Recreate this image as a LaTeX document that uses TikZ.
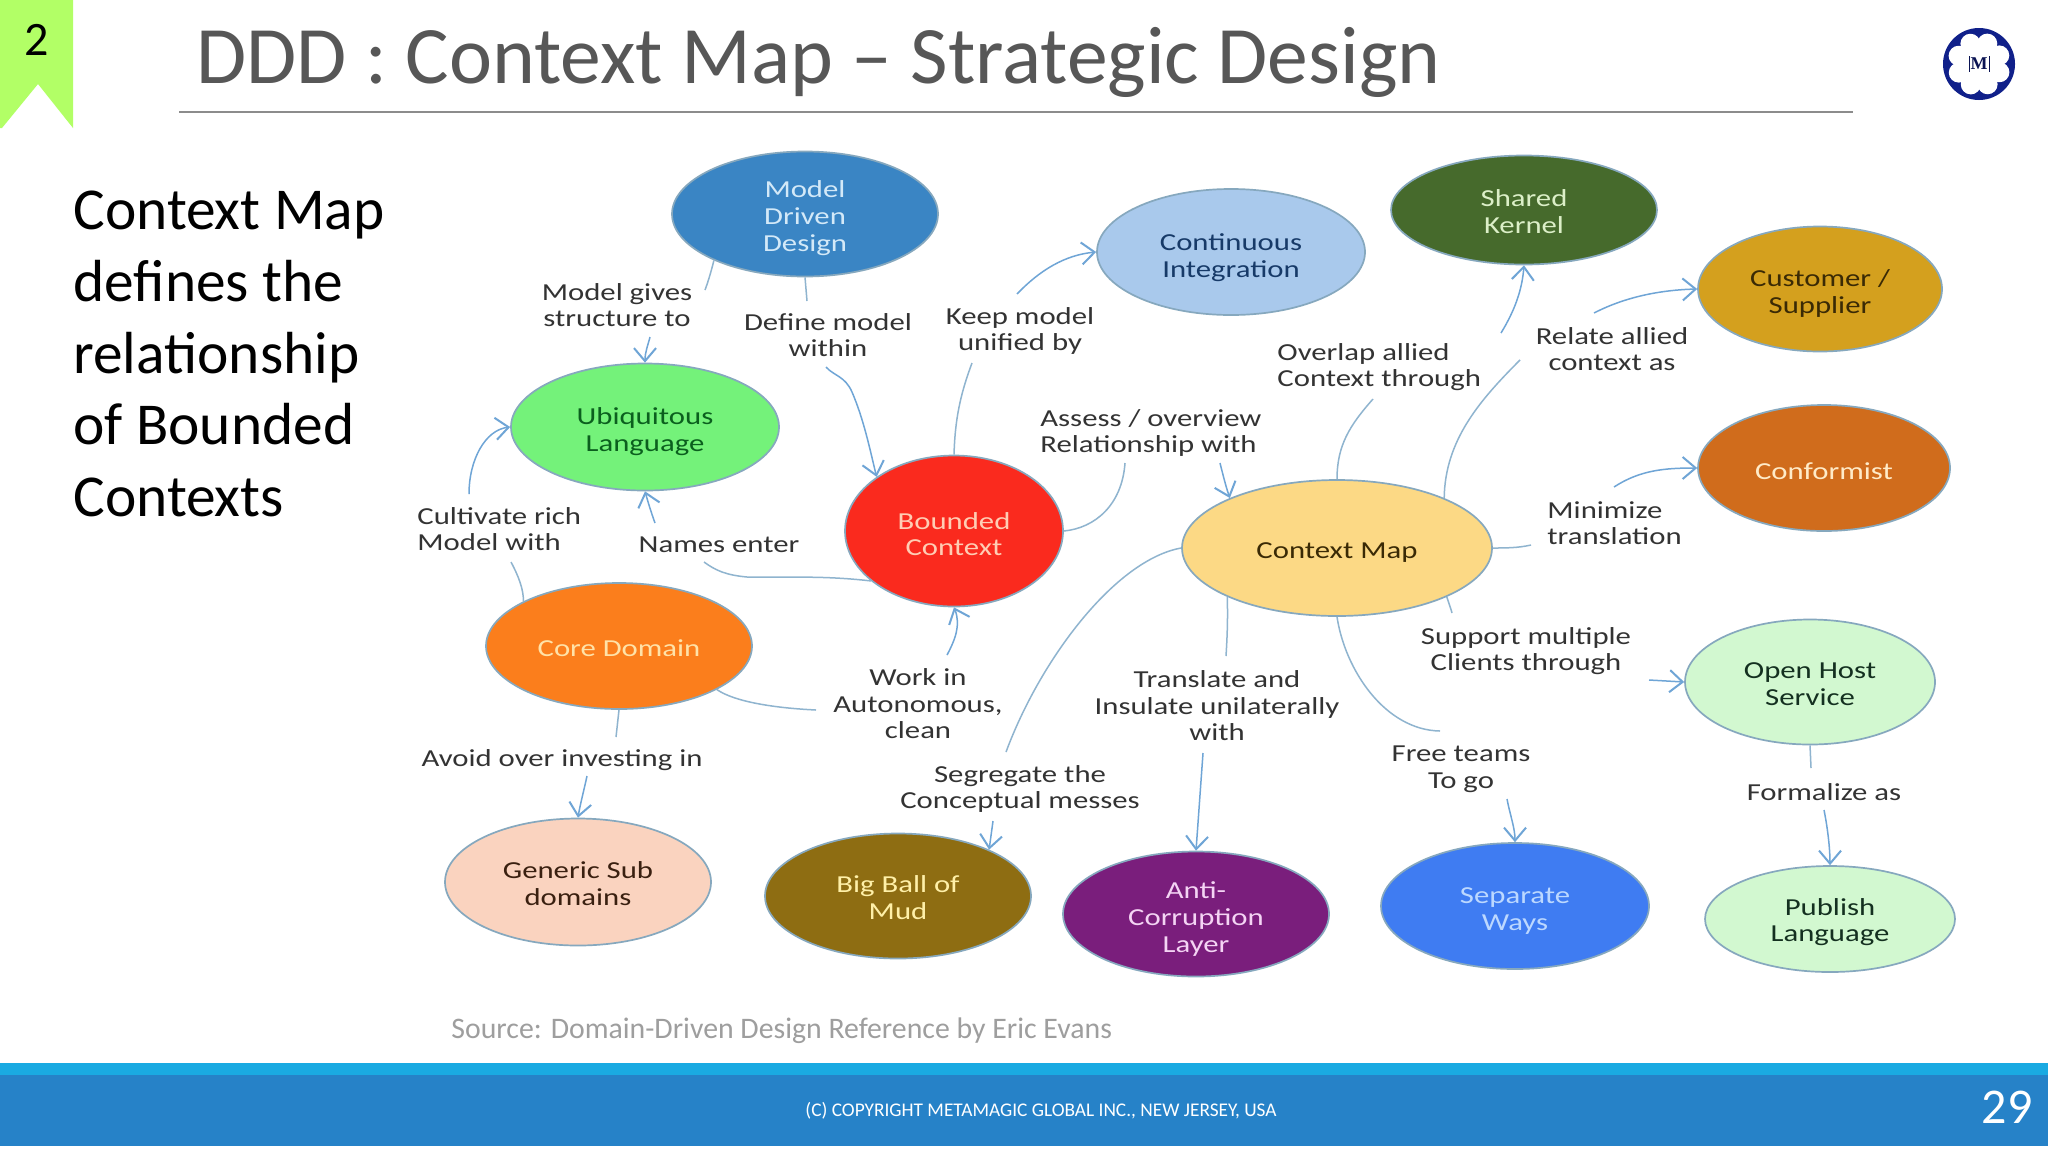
\documentclass[tikz,border=0pt]{standalone}
\usepackage{fontspec}
\setmainfont{Carlito}
\newfontfamily\diag[FakeStretch=1.26]{Carlito}
\newfontfamily\logofont{Liberation Serif}
\usetikzlibrary{shapes.geometric,arrows.meta}
\newcommand{\dropby}[1]{\rule{0pt}{#1pt}}
\tikzset{
  oval/.style n args={4}{shape=ellipse, minimum width=#1pt, minimum height=#2pt, inner sep=0pt, fill=#3, text=#4,
    draw=edgegrey, line width=0.85pt, align=center, font=\diag\fontsize{12.2}{13.4}\selectfont},
  lab/.style={align=center, inner sep=0pt, text=labtext, font=\diag\fontsize{12.2}{13.3}\selectfont},
  labl/.style={lab, align=left},
  link/.style={draw=linkblue, line width=0.75pt},
  arrowlink/.style={link, draw=arrowblue, -{Straight Barb[length=6.5pt,width=11pt,line width=1pt]}},
}
\definecolor{edgegrey}{HTML}{86A8BE}
\definecolor{linkblue}{HTML}{8FB4CF}
\definecolor{arrowblue}{HTML}{6FA5D6}
\definecolor{labtext}{HTML}{333333}
\definecolor{cMDD}{HTML}{3A85C4}\definecolor{tMDD}{HTML}{D3E9F8}
\definecolor{cUL}{HTML}{74F27A}\definecolor{tUL}{HTML}{0B5F1E}
\definecolor{cBC}{HTML}{FA2A1E}\definecolor{tBC}{HTML}{FFCDB4}
\definecolor{cCI}{HTML}{A9C9EC}\definecolor{tCI}{HTML}{173A68}
\definecolor{cSK}{HTML}{466A2C}\definecolor{tSK}{HTML}{DCEFC8}
\definecolor{cCS}{HTML}{D4A01E}\definecolor{tCS}{HTML}{3A2A05}
\definecolor{cCF}{HTML}{D06C1C}\definecolor{tCF}{HTML}{FFEBC8}
\definecolor{cCM}{HTML}{FCD985}\definecolor{tCM}{HTML}{3A2A05}
\definecolor{cCD}{HTML}{FB7E1C}\definecolor{tCD}{HTML}{FFE2A8}
\definecolor{cGS}{HTML}{FAD3BF}\definecolor{tGS}{HTML}{3A2010}
\definecolor{cBB}{HTML}{8E6D12}\definecolor{tBB}{HTML}{FFF0A8}
\definecolor{cAC}{HTML}{7A1E7C}\definecolor{tAC}{HTML}{F4D4F4}
\definecolor{cSW}{HTML}{3F7CF2}\definecolor{tSW}{HTML}{BCD8FF}
\definecolor{cOH}{HTML}{D2F8D0}\definecolor{tOH}{HTML}{143020}
\definecolor{tab}{HTML}{B2FF66}
\definecolor{bandA}{HTML}{1AAAE2}
\definecolor{bandB}{HTML}{2682C8}
\definecolor{logoblue}{HTML}{10208A}
\begin{document}
\begin{tikzpicture}[x=0.5pt,y=-0.5pt]
\useasboundingbox (0,0) rectangle (2048,1152);
\fill[white] (0,0) rectangle (2048,1152);
% chrome
\fill[tab] (0,0) -- (73,0) -- (73,128) -- (38,84) -- (2,128) -- (0,128) -- cycle;
\node (num) at (37,40) [inner sep=0pt, font=\fontsize{24}{24}\selectfont] {2};
\node (title) at (196,62) [anchor=west, inner sep=0pt, text=black!66, font=\fontsize{40.8}{41}\selectfont] {DDD : Context Map – Strategic Design};
\draw[draw=black!45, line width=0.7pt] (179,112) -- (1853,112);
\node (body) at (73,191) [anchor=north west, inner sep=0pt, align=left, font=\fontsize{29.7}{35.8}\selectfont] {Context Map\\defines the\\relationship\\of Bounded\\Contexts};
% logo
\fill[logoblue] (1979,64) circle[radius=36];
\foreach \a in {0,45,...,315} \fill[white] (1979,64) ++(\a+22:22) circle[radius=10];
\fill[white] (1979,64) circle[radius=23];
\node (logo) at (1979,64) [inner sep=0pt, text=logoblue!60!black, font=\logofont\bfseries\fontsize{9}{9}\selectfont] {M};
\draw[draw=logoblue!60!black, line width=0.3pt] (1969,56) -- (1969,72);
\draw[draw=logoblue!60!black, line width=0.3pt] (1989,56) -- (1989,72);
% footer
\fill[bandA] (0,1063) rectangle (2048,1075);
\fill[bandB] (0,1075) rectangle (2048,1146);
\node (src) at (451,1031) [anchor=west, inner sep=0pt, text=black!38, font=\fontsize{14.9}{15}\selectfont] {Source: Domain-Driven Design Reference by Eric Evans};
\node (copy) at (805,1111) [anchor=west, inner sep=0pt, text=white, font=\fontsize{9.67}{10}\selectfont] {(C) COPYRIGHT METAMAGIC GLOBAL INC., NEW JERSEY, USA};
\node (page) at (2007,1107) [inner sep=0pt, text=white, font=\fontsize{25}{25}\selectfont] {29};
% ovals
\node[oval={133}{62.5}{cMDD}{tMDD}] (mdd) at (805,214) {\dropby{12.8}Model\\Driven\\Design};
\node[oval={134}{63.5}{cUL}{tUL}] (ul) at (645,427) {\dropby{12.8}Ubiquitous\\Language};
\node[oval={109}{75.5}{cBC}{tBC}] (bc) at (954,531) {\dropby{11.5}Bounded\\Context};
\node[oval={134}{63}{cCI}{tCI}] (ci) at (1231,252) {\dropby{14.1}Continuous\\Integration};
\node[oval={133}{54.5}{cSK}{tSK}] (sk) at (1524,210) {\dropby{10.2}Shared\\Kernel};
\node[oval={122}{62.5}{cCS}{tCS}] (cs) at (1820,289) {\dropby{12.8}Customer /\\Supplier};
\node[oval={126}{63}{cCF}{tCF}] (cf) at (1824,468) {\dropby{11.5}Conformist};
\node[oval={155}{68}{cCM}{tCM}] (cm) at (1337,548) {\dropby{12.8}Context Map};
\node[oval={133}{63}{cCD}{tCD}] (cd) at (619,646) {\dropby{11}Core Domain};
\node[oval={133}{63.5}{cGS}{tGS}] (gs) at (578,882) {\dropby{10.2}Generic Sub\\domains};
\node[oval={133}{62.5}{cBB}{tBB}] (bb) at (898,896) {\dropby{10.2}Big Ball of\\Mud};
\node[oval={133}{62.5}{cAC}{tAC}] (ac) at (1196,914) {\dropby{13.5}Anti-\\Corruption\\Layer};
\node[oval={134}{63}{cSW}{tSW}] (sw) at (1515,906) {\dropby{12.8}Separate\\Ways};
\node[oval={125}{62.5}{cOH}{tOH}] (oh) at (1810,682) {\dropby{10.2}Open Host\\Service};
\node[oval={125}{53}{cOH}{tOH}] (pl) at (1830,919) {\dropby{11.5}Publish\\Language};
% labels
\node[lab] (l1) at (617,305) {Model gives\\structure to};
\node[lab] (l2) at (828,335) {Define model\\within};
\node[lab] (l3) at (1020,331) {Keep model\\unified by};
\node[labl,anchor=west] (l4) at (1040,433) {Assess / overview\\Relationship with};
\node[labl,anchor=west] (l5) at (1277,367) {Overlap allied\\Context through};
\node[lab] (l6) at (1612,349) {Relate allied\\context as};
\node[labl,anchor=west] (l7) at (1547,523) {Minimize\\translation};
\node[labl,anchor=west] (l8) at (417,529) {Cultivate rich\\Model with};
\node[lab] (l9) at (719,545) {Names enter};
\node[lab] (l10) at (918,704) {Work in\\Autonomous,\\clean};
\node[lab] (l11) at (562,760) {Avoid over investing in};
\node[lab] (l12) at (1020,789) {Segregate the\\Conceptual messes};
\node[lab] (l13) at (1217,706) {Translate and\\Insulate unilaterally\\with};
\node[lab] (l14) at (1461,769) {Free teams\\To go};
\node[lab] (l15) at (1526,651) {Support multiple\\Clients through};
\node[lab] (l16) at (1824,792) {Formalize as};
% free ends of connectors
\coordinate (e1) at (705,290);  \coordinate (s1) at (650,337);
\coordinate (e2) at (807,301);  \coordinate (s2) at (826,367);
\coordinate (e3) at (972,363);  \coordinate (s3) at (1017,294);
\coordinate (e4) at (1125,463); \coordinate (s4) at (1220,463);
\coordinate (e5) at (511,562);  \coordinate (s5) at (469,494);
\coordinate (e6) at (704,562);  \coordinate (s6) at (655,523);
\coordinate (e7) at (816,710);  \coordinate (s7) at (947,655);
\coordinate (e8) at (616,737);  \coordinate (s8) at (587,776);
\coordinate (e9) at (1006,752); \coordinate (s9) at (993,821);
\coordinate (e10) at (1226,656);\coordinate (s10) at (1203,753);
\coordinate (e11) at (1440,731);\coordinate (s11) at (1507,799);
\coordinate (e12) at (1452,613);\coordinate (s12) at (1649,680);
\coordinate (e13) at (1811,768);\coordinate (s13) at (1824,810);
\coordinate (e14) at (1373,399);\coordinate (s14) at (1501,333);
\coordinate (e15) at (1520,360);\coordinate (s15) at (1594,313);
\coordinate (e17) at (1531,545);\coordinate (s17) at (1614,487);
% connectors
\draw[link] (mdd.207) .. controls (711,272) and (708,282) .. (e1);
\draw[arrowlink] (s1) .. controls (648,345) and (645,352) .. (ul.north);
\draw[link] (mdd.south) -- (e2);
\draw[arrowlink] (s2) .. controls (834,376) and (845,376) .. (852,392) .. controls (864,420) and (870,450) .. (bc.145);
\draw[link] (bc.north) .. controls (955,420) and (960,395) .. (e3);
\draw[arrowlink] (s3) .. controls (1040,270) and (1065,255) .. (ci.west);
\draw[link] (bc.east) .. controls (1095,528) and (1122,505) .. (e4);
\draw[arrowlink] (s4) .. controls (1223,475) and (1226,487) .. (cm.155);
\draw[link] (cd.155) .. controls (524,590) and (518,575) .. (e5);
\draw[arrowlink] (s5) .. controls (469,460) and (485,430) .. (ul.west);
\draw[link] (bc.211) .. controls (820,575) and (780,578) .. (747,577) .. controls (725,575) and (715,570) .. (e6);
\draw[arrowlink] (s6) .. controls (651,512) and (648,502) .. (ul.south);
\draw[link] (cd.336) .. controls (735,702) and (775,708) .. (e7);
\draw[arrowlink] (s7) .. controls (955,640) and (961,625) .. (bc.south);
\draw[link] (cd.south) -- (e8);
\draw[arrowlink] (s8) .. controls (584,790) and (580,805) .. (gs.north);
\draw[link] (cm.west) .. controls (1115,560) and (1040,660) .. (e9);
\draw[arrowlink] (s9) -- (bb.27);
\draw[link] (cm.204) .. controls (1228,620) and (1227,640) .. (e10);
\draw[arrowlink] (s10) -- (ac.north);
\draw[link] (cm.south) .. controls (1345,670) and (1385,730) .. (e11);
\draw[arrowlink] (s11) .. controls (1510,815) and (1515,828) .. (sw.north);
\draw[link] (cm.336) .. controls (1449,604) and (1451,609) .. (e12);
\draw[arrowlink] (s12) -- (oh.west);
\draw[link] (oh.south) -- (e13);
\draw[arrowlink] (s13) .. controls (1828,830) and (1830,850) .. (pl.north);
\draw[link] (cm.north) .. controls (1337,445) and (1350,425) .. (e14);
\draw[link] (cm.25) .. controls (1445,440) and (1480,400) .. (e15);
\draw[arrowlink] (s14) .. controls (1515,310) and (1522,290) .. (sk.south);
\draw[arrowlink] (s15) .. controls (1625,297) and (1660,290) .. (cs.west);
\draw[link] (cm.east) .. controls (1505,548) and (1518,548) .. (e17);
\draw[arrowlink] (s17) .. controls (1640,470) and (1665,468) .. (cf.west);
\end{tikzpicture}
\end{document}
